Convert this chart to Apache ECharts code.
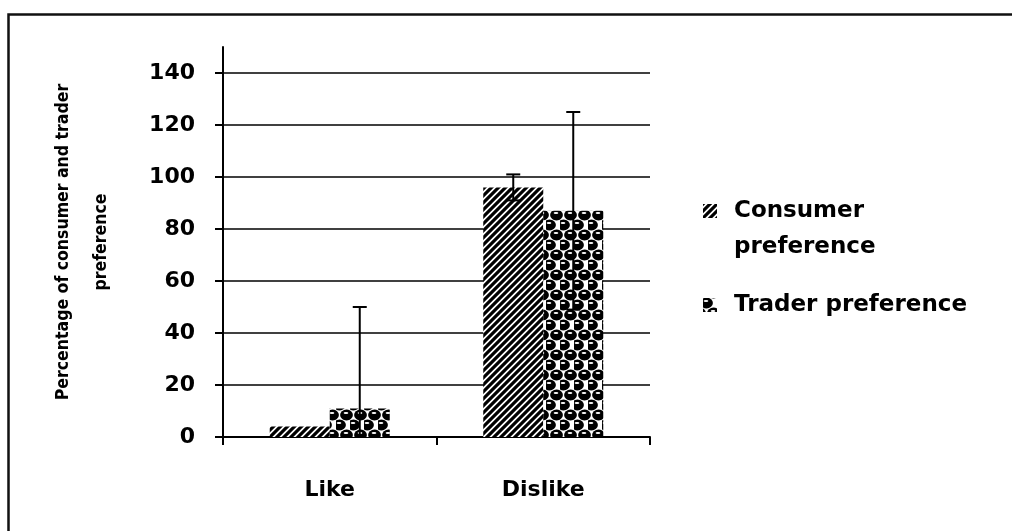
<!DOCTYPE html>
<html>
<head>
<meta charset="utf-8">
<script src="https://cdn.jsdelivr.net/npm/echarts@6/dist/echarts.min.js"></script>
<style>
  html, body { margin: 0; padding: 0; background: #fff; }
  #chart { width: 1012px; height: 531px; }
</style>
</head>
<body>
<div id="chart"></div>
<script>
// values
const categories = ['Like', 'Dislike'];
const seriesNames = ['Consumer preference', 'Trader preference'];
const consumerValues = [4, 96];
const traderValues = [11, 87];
const consumerErrors = [0, 5];
const traderErrors = [39, 38];
const yTicks = { min: 0, max: 140, interval: 20 };

const FONT = 'DejaVu Sans';
const BAR_WIDTH = 60;

function hatchPattern() {
    const c = document.createElement('canvas');
    const s = 7;
    c.width = s; c.height = s;
    const ctx = c.getContext('2d');
    ctx.fillStyle = '#fff';
    ctx.fillRect(0, 0, s, s);
    ctx.strokeStyle = '#000';
    ctx.lineWidth = 3.2;
    ctx.beginPath();
    // 45 degree stripes rising to the right, x + y constant along each one
    for (let k = -1; k <= 1; k++) {
        ctx.moveTo(k * s - 2, s + 2);
        ctx.lineTo(k * s + s + 2, -2);
    }
    ctx.stroke();
    return c;
}

function ballPattern() {
    const c = document.createElement('canvas');
    const w = 14, h = 20;
    c.width = w; c.height = h;
    const ctx = c.getContext('2d');
    ctx.fillStyle = '#fff';
    ctx.fillRect(0, 0, w, h);
    const balls = [[3.5, 5], [10.5, 15], [-3.5, 15], [17.5, 15], [10.5, -5], [3.5, 25], [-3.5, -5], [17.5, -5], [-3.5, 25], [17.5, 25]];
    balls.forEach(([x, y]) => {
        ctx.fillStyle = '#000';
        ctx.beginPath();
        ctx.ellipse(x, y, 6.4, 5.4, 0, 0, Math.PI * 2);
        ctx.fill();
    });
    balls.forEach(([x, y]) => {
        ctx.fillStyle = '#fff';
        ctx.beginPath();
        ctx.ellipse(x - 0.5, y - 2, 2.4, 1.1, 0, 0, Math.PI * 2);
        ctx.fill();
    });
    return c;
}

const chart = echarts.init(document.getElementById('chart'), null, { renderer: 'canvas' });

function errorSeries(values, errors, offset) {
    return {
        type: 'custom',
        xAxisIndex: 0,
        yAxisIndex: 0,
        clip: true,
        z: 5,
        silent: true,
        data: values.map((v, i) => [i, v - errors[i], v + errors[i]]),
        renderItem: (params, api) => {
            const lo = api.value(1), hi = api.value(2);
            if (hi === lo) {
                return null;
            }
            const top = api.coord([api.value(0), hi]);
            const bottom = api.coord([api.value(0), lo]);
            const x = top[0] + offset;
            const cap = 7;
            const style = { stroke: '#000', lineWidth: 2 };
            return {
                type: 'group',
                children: [
                    { type: 'line', shape: { x1: x, y1: top[1], x2: x, y2: bottom[1] }, style },
                    { type: 'line', shape: { x1: x - cap, y1: top[1], x2: x + cap, y2: top[1] }, style },
                    { type: 'line', shape: { x1: x - cap, y1: bottom[1], x2: x + cap, y2: bottom[1] }, style }
                ]
            };
        }
    };
}

const gridLeft = 223, gridRight = 362, gridBottom = 94;

chart.setOption({
    animation: false,
    backgroundColor: '#fff',
    graphic: [{
        type: 'rect',
        left: 6, top: 12,
        shape: { width: 1100, height: 600 },
        style: { fill: 'none', stroke: '#111', lineWidth: 2.5 },
        silent: true
    }],
    grid: [
        { left: gridLeft, right: gridRight, top: 73, bottom: gridBottom },
        { left: gridLeft, right: gridRight, top: 47, bottom: gridBottom }
    ],
    legend: {
        orient: 'vertical',
        left: 703,
        top: 157,
        padding: 0,
        itemGap: 22,
        itemWidth: 14,
        itemHeight: 14,
        icon: 'rect',
        textStyle: {
            fontFamily: FONT, fontWeight: 'bold', fontSize: 23, color: '#000',
            lineHeight: 36, padding: [0, 0, 0, 12]
        },
        // the first name wraps onto a second line, with its first line beside the icon
        formatter: name => name === seriesNames[0] ? '\n' + name.replace(' ', '\n') : name,
        data: seriesNames
    },
    xAxis: [{
        type: 'category',
        gridIndex: 0,
        data: categories,
        axisLine: { lineStyle: { color: '#000', width: 2 } },
        axisTick: { show: true, length: 8, lineStyle: { color: '#000', width: 2 } },
        axisLabel: { margin: 42, fontFamily: FONT, fontWeight: 'bold', fontSize: 22, color: '#000' }
    }, {
        type: 'category',
        gridIndex: 1,
        data: categories,
        show: false
    }],
    yAxis: [{
        type: 'value',
        gridIndex: 0,
        min: yTicks.min,
        max: yTicks.max,
        interval: yTicks.interval,
        axisLine: { show: true, lineStyle: { color: '#000', width: 2 } },
        axisTick: { show: true, length: 8, lineStyle: { color: '#000', width: 2 } },
        splitLine: { show: true, lineStyle: { color: '#000', width: 1.5 } },
        axisLabel: { margin: 28, fontFamily: FONT, fontWeight: 'bold', fontSize: 22, color: '#000' }
    }, {
        type: 'value',
        gridIndex: 1,
        min: 0,
        max: 150,
        axisLine: { show: true, lineStyle: { color: '#000', width: 2 } },
        axisTick: { show: false },
        axisLabel: { show: false },
        splitLine: { show: false },
        name: 'Percentage of consumer and trader\npreference',
        nameLocation: 'middle',
        nameGap: 103,
        nameTextStyle: {
            fontFamily: 'DejaVu Sans Condensed', fontWeight: 'bold', fontSize: 17.5, color: '#000',
            lineHeight: 38, align: 'center'
        }
    }],
    series: [{
        name: seriesNames[0],
        type: 'bar',
        xAxisIndex: 0,
        yAxisIndex: 0,
        barWidth: BAR_WIDTH,
        barGap: '0%',
        data: consumerValues,
        itemStyle: { color: { image: hatchPattern(), repeat: 'repeat' } }
    }, {
        name: seriesNames[1],
        type: 'bar',
        xAxisIndex: 0,
        yAxisIndex: 0,
        barWidth: BAR_WIDTH,
        barGap: '0%',
        data: traderValues,
        itemStyle: { color: { image: ballPattern(), repeat: 'repeat' } }
    },
    errorSeries(consumerValues, consumerErrors, -BAR_WIDTH / 2),
    errorSeries(traderValues, traderErrors, BAR_WIDTH / 2)
    ]
});
</script>
</body>
</html>
